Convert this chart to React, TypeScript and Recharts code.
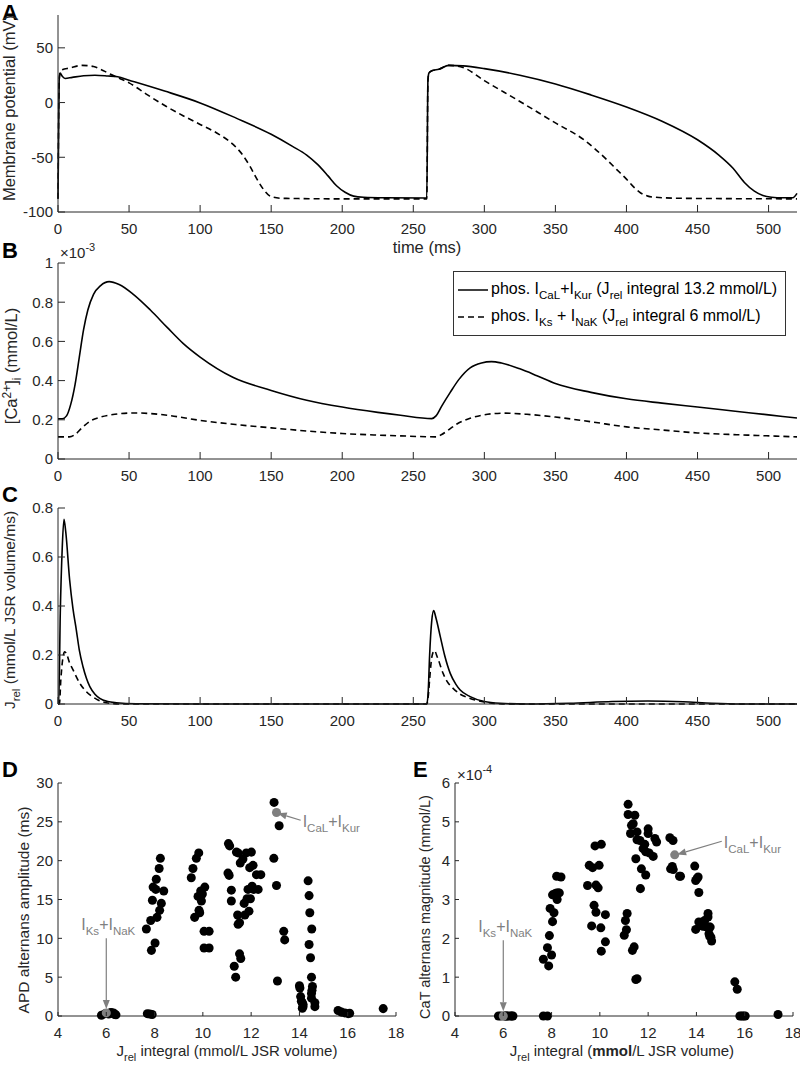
import React from 'react';
import {
  LineChart,
  Line,
  ScatterChart,
  Scatter,
  XAxis,
  YAxis,
  ZAxis,
  Legend,
  ReferenceLine,
} from 'recharts';

const FONT = '"Liberation Sans", Arial, Helvetica, sans-serif';
const INK = '#262626';
const GREY = '#7f7f7f';

// ---- A: membrane potential (mV) over time (ms)
const timeTicks = [0, 50, 100, 150, 200, 250, 300, 350, 400, 450, 500];
const vTicks = [-100, -50, 0, 50];

const apCaKurT = [0, 0.8, 1.5, 3, 5, 10, 18, 26, 35, 42, 50, 75, 100, 125, 150, 165, 175, 183, 190, 196, 202, 208, 215, 230, 259.5, 260.3, 261, 263, 268, 275, 285, 300, 325, 350, 375, 400, 425, 450, 465, 475, 483, 490, 496, 502, 510, 517, 520];
const apCaKurV = [-88, 20, 27, 24, 22, 23, 24.5, 25, 24.3, 23.5, 20.4, 10.5, -0.3, -14, -29, -40, -48, -57, -67, -76, -82, -85.5, -86.5, -87, -87.2, 20, 27, 29, 30.5, 34, 33.5, 31, 25, 17, 7, -4, -17, -34, -48, -60, -73, -81, -85, -86.5, -87, -87, -83];

const apKsNaKT = [0, 0.8, 1.5, 3, 8, 17, 25, 32, 40, 50, 63, 76, 88, 100, 112, 123, 130, 135, 140, 145, 150, 158, 200, 259.5, 260.3, 261, 263, 268, 275, 285, 300, 325, 350, 370, 386, 393, 400, 405, 410, 415, 420, 440, 520];
const apKsNaKV = [-88, 20, 28, 30, 31.5, 34, 33, 29, 24, 18, 7, -3.4, -12, -20, -28, -38, -48, -58, -70, -80, -86, -87.5, -88, -88, 20, 27, 29, 30.5, 34, 32, 20, 1, -18.6, -34, -52, -61, -70, -77, -82.6, -85.5, -86.5, -87.5, -88];

// ---- B: [Ca2+]i (x1e-3 mmol/L)
const caTicks = [0, 0.2, 0.4, 0.6, 0.8, 1];
const caCaKurT = [0, 3, 6, 9, 12, 15, 18, 21, 25, 30, 36, 43, 53, 65, 77, 88, 100, 123, 150, 175, 200, 225, 241, 263, 266, 270, 276, 282, 290, 298, 305, 312, 325, 337, 350, 375, 400, 425, 450, 475, 500, 520];
const caCaKurV = [0.205, 0.205, 0.22, 0.28, 0.38, 0.52, 0.66, 0.76, 0.84, 0.885, 0.905, 0.89, 0.84, 0.76, 0.67, 0.59, 0.52, 0.417, 0.35, 0.3, 0.265, 0.238, 0.223, 0.206, 0.22, 0.27, 0.34, 0.405, 0.465, 0.49, 0.497, 0.49, 0.46, 0.425, 0.385, 0.34, 0.307, 0.285, 0.265, 0.245, 0.225, 0.209];

const caKsNaKT = [0, 8, 12, 17, 23, 30, 40, 53, 65, 77, 100, 125, 150, 175, 200, 225, 241, 266, 270, 276, 281, 290, 298, 314, 330, 350, 375, 400, 425, 450, 485, 520];
const caKsNaKV = [0.113, 0.113, 0.125, 0.16, 0.195, 0.214, 0.228, 0.235, 0.232, 0.223, 0.197, 0.176, 0.159, 0.143, 0.13, 0.122, 0.118, 0.113, 0.125, 0.155, 0.18, 0.208, 0.223, 0.234, 0.228, 0.214, 0.19, 0.164, 0.148, 0.133, 0.122, 0.113];

// ---- C: Jrel (mmol/L JSR volume/ms)
const jTicks = [0, 0.2, 0.4, 0.6, 0.8];
const jCaKurT = [0, 0.5, 1.6, 3, 4.2, 5.5, 8.2, 10.5, 12.9, 15, 17.6, 20, 22.4, 26, 29.4, 35, 41, 55, 100, 259.5, 260.5, 261.5, 263, 264.3, 266, 269, 272, 276, 280, 283, 290, 300, 311, 330, 360, 390, 415, 440, 460, 480, 520];
const jCaKurV = [0, 0, 0.37, 0.64, 0.754, 0.7, 0.506, 0.39, 0.302, 0.22, 0.152, 0.105, 0.071, 0.04, 0.023, 0.01, 0.005, 0.001, 0, 0, 0.05, 0.2, 0.34, 0.381, 0.35, 0.275, 0.2, 0.125, 0.08, 0.057, 0.03, 0.01, 0.003, 0, 0.003, 0.01, 0.012, 0.009, 0.003, 0, 0];

const jKsNaKT = [0, 1, 2, 3.5, 4.7, 6, 8, 10.6, 13, 15.3, 20, 27, 34, 45, 259.5, 260.5, 261.5, 263, 264.8, 267, 271, 274, 278, 283, 288, 300, 315, 520];
const jKsNaKV = [0, 0, 0.1, 0.19, 0.213, 0.205, 0.17, 0.139, 0.11, 0.085, 0.05, 0.02, 0.005, 0, 0, 0.03, 0.1, 0.19, 0.218, 0.19, 0.125, 0.09, 0.064, 0.04, 0.027, 0.008, 0, 0];

// ---- D: APD alternans amplitude (ms) vs Jrel integral
const jrelTicks = [4, 6, 8, 10, 12, 14, 16, 18];
const apdTicks = [0, 5, 10, 15, 20, 25, 30];
const apdJrel = [
  5.8, 5.95, 6.1, 6.15, 6.2, 6.25, 6.3, 6.35, 6.4,
  7.7, 7.8, 7.9, 7.66, 7.84, 7.87, 7.91, 7.94, 8.02, 8.05, 8.07, 8.1, 8.19, 8.21, 8.24, 8.28, 8.38,
  9.52, 9.59, 9.66, 9.73, 9.8, 9.83, 9.84, 9.87, 9.91, 9.94, 9.98, 10.05, 10.26, 10.05, 10.26, 10.08,
  11.06, 11.11, 11.04, 11.09, 11.18, 11.18, 11.3, 11.36, 11.39, 11.44, 11.46, 11.46, 11.52, 11.52, 11.57, 11.55,
  11.66, 11.71, 11.74, 11.8, 11.83, 11.87, 11.91, 11.94, 11.97, 12.01, 12.04, 12.08, 12.1, 12.29, 12.22, 12.4,
  12.95, 13.16, 12.94, 13.05, 13.09, 13.35, 13.39,
  14.0, 14.02, 14.05, 14.08, 14.12, 14.15, 14.15, 14.12, 14.36, 14.4, 14.43, 14.4, 14.51, 14.46, 14.5, 14.54, 14.52, 14.5, 14.5, 14.64, 14.64,
  15.6, 15.74, 15.88, 16.02, 16.08, 17.47,
];
const apdAmp = [
  0.1, 0.3, 0.25, 0.4, 0.45, 0.35, 0.4, 0.2, 0.15,
  0.3, 0.25, 0.2, 11.2, 12.3, 8.45, 14.9, 16.6, 9.4, 16.3, 17.6, 12.7, 19.0, 13.6, 20.3, 14.5, 16.1,
  17.8, 19.0, 12.7, 20.3, 15.4, 21.0, 13.6, 13.3, 16.1, 14.8, 15.7, 10.9, 10.9, 8.75, 8.75, 16.6,
  22.2, 21.9, 18.4, 18.1, 16.2, 14.8, 6.4, 5.0, 21.1, 13.0, 21.0, 11.8, 12.0, 8.0, 7.4, 19.7,
  20.2, 14.5, 13.0, 21.0, 15.1, 16.3, 13.5, 19.1, 15.1, 21.1, 16.7, 19.4, 16.3, 16.3, 18.2, 18.2,
  27.5, 24.5, 20.3, 16.8, 4.5, 10.9, 9.8,
  3.9, 3.6, 2.5, 1.9, 1.7, 1.5, 1.2, 1.0, 17.4, 15.5, 13.3, 9.2, 11.2, 7.5, 5.0, 3.8, 3.3, 2.9, 2.3, 1.7, 1.2,
  0.7, 0.5, 0.4, 0.3, 0.35, 0.95,
];
const apdMarkJrel = [13.05, 6.0];
const apdMarkAmp = [26.2, 0.4];

// ---- E: CaT alternans magnitude (x1e-4 mmol/L) vs Jrel integral
const catTicks = [0, 1, 2, 3, 4, 5, 6];
const catJrel = [
  5.8, 5.9, 6.05, 6.1, 6.15, 6.2, 6.3, 6.35, 6.4,
  7.66, 7.83, 7.66, 7.83, 7.88, 7.91, 7.94, 8.0, 8.04, 8.04, 8.1, 8.14, 8.21, 8.23, 8.28, 8.21, 8.32, 8.39,
  9.49, 9.56, 9.66, 9.7, 9.76, 9.8, 9.84, 9.84, 9.93, 9.97, 10.04, 10.06, 10.06, 10.23, 10.23,
  11.01, 11.06, 11.1, 11.13, 11.17, 11.17, 11.27, 11.31, 11.38, 11.35, 11.42, 11.45, 11.49, 11.49, 11.54,
  11.54, 11.54, 11.66, 11.72, 11.68, 11.79, 11.86, 11.9, 11.9, 12.0, 12.0, 12.04, 12.21, 12.28, 12.35,
  12.9, 13.03, 12.93, 13.0, 13.04, 13.3, 13.34,
  13.93, 13.97, 14.03, 14.07, 14.1, 13.97, 14.1, 14.27, 14.34, 14.38, 14.43, 14.48, 14.48, 14.52, 14.52, 14.57, 14.55, 14.6, 14.63,
  15.59, 15.69, 15.8, 15.88, 15.95, 16.02, 17.38,
];
const catMag = [
  0, 0, 0, 0, 0, 0, 0, 0, 0,
  0, 0, 1.46, 1.76, 1.29, 2.07, 2.77, 1.57, 2.43, 3.12, 2.66, 3.15, 3.17, 3.0, 3.17, 3.6, 3.17, 3.58,
  3.36, 3.88, 2.32, 3.82, 2.85, 4.38, 3.37, 2.67, 3.3, 3.88, 2.27, 4.42, 1.67, 2.61, 1.91,
  2.08, 2.46, 2.22, 2.64, 5.45, 5.19, 4.7, 4.91, 4.95, 1.69, 1.78, 5.17, 4.05, 0.94, 0.96,
  4.74, 4.54, 4.52, 3.79, 3.28, 4.31, 4.42, 3.63, 4.23, 4.82, 4.7, 4.2, 4.11, 4.57, 4.48,
  4.59, 4.52, 3.79, 3.85, 3.77, 3.6, 3.6,
  3.86, 3.49, 3.54, 3.58, 3.18, 2.23, 2.42, 2.31, 2.46, 2.31, 2.29, 2.64, 2.55, 2.29, 2.12, 2.29, 2.05, 2.03, 1.93,
  0.88, 0.69, 0, 0, 0, 0, 0.04,
];
const catMarkJrel = [13.1, 6.0];
const catMarkMag = [4.15, 0.0];

const series = (t: number[], v: number[]) => t.map((x, i) => ({ t: x, v: v[i] }));
const points = (x: number[], y: number[]) => x.map((a, i) => ({ x: a, y: y[i] }));

const apCaKur = series(apCaKurT, apCaKurV);
const apKsNaK = series(apKsNaKT, apKsNaKV);
const caCaKur = series(caCaKurT, caCaKurV);
const caKsNaK = series(caKsNaKT, caKsNaKV);
const jCaKur = series(jCaKurT, jCaKurV);
const jKsNaK = series(jKsNaKT, jKsNaKV);

const XTick = ({ x, y, payload, len }: any) => (
  <g>
    <line x1={x} y1={y} x2={x} y2={y - len} stroke={INK} />
    <text x={x} y={y + 22} textAnchor="middle" fontSize={15} fill={INK} fontFamily={FONT}>
      {payload.value}
    </text>
  </g>
);

const YTick = ({ x, y, payload, len }: any) => (
  <g>
    <line x1={x} y1={y} x2={x + len} y2={y} stroke={INK} />
    <text x={x - 5} y={y} dy="0.36em" textAnchor="end" fontSize={15} fill={INK} fontFamily={FONT}>
      {payload.value}
    </text>
  </g>
);

const Letter = ({ x, y, children }: any) => (
  <text x={x} y={y} fontSize={22} fontWeight="bold" fill="#000" fontFamily={FONT}>{children}</text>
);

const VTitle = ({ x, y, size = 16, children }: any) => (
  <text transform={`translate(${x},${y}) rotate(-90)`} textAnchor="middle" fontSize={size} fill={INK} fontFamily={FONT}>
    {children}
  </text>
);

const Exp = ({ x, y, p }: any) => (
  <text x={x} y={y} fontSize={15} fill={INK} fontFamily={FONT}>
    ×10<tspan dy={-7} fontSize={11}>{p}</tspan>
  </text>
);

const JrelTitle = ({ x, y, boldUnit }: any) => (
  <text x={x} y={y} textAnchor="middle" fontSize={15} fill={INK} fontFamily={FONT}>
    J<tspan dy={5} fontSize={11}>rel</tspan>
    <tspan dy={-5}> integral (</tspan>
    <tspan fontWeight={boldUnit ? 'bold' : 'normal'}>mmol</tspan>
    <tspan>/L JSR volume)</tspan>
  </text>
);

const Sub = ({ children }: any) => (
  <span style={{ fontSize: 11.5, position: 'relative', top: 5 }}>{children}</span>
);

const LegendBox = () => (
  <div
    style={{
      border: '1px solid #333',
      background: '#fff',
      padding: '4px 8px 5px 4px',
      fontFamily: FONT,
      fontSize: 16,
      color: '#000',
      lineHeight: '25px',
      width: 'max-content',
      boxSizing: 'border-box',
    }}
  >
    <div style={{ display: 'flex', alignItems: 'center', whiteSpace: 'nowrap' }}>
      <svg width={31} height={10}><line x1={0} x2={30} y1={5} y2={5} stroke="#000" strokeWidth={1.5} /></svg>
      <span style={{ marginLeft: 2 }}>
        phos. I<Sub>CaL</Sub>+I<Sub>Kur</Sub> (J<Sub>rel</Sub> integral 13.2 mmol/L)
      </span>
    </div>
    <div style={{ display: 'flex', alignItems: 'center', whiteSpace: 'nowrap' }}>
      <svg width={31} height={10}><line x1={0} x2={30} y1={5} y2={5} stroke="#000" strokeWidth={1.5} strokeDasharray="6 4" /></svg>
      <span style={{ marginLeft: 2 }}>
        phos. I<Sub>Ks</Sub> + I<Sub>NaK</Sub> (J<Sub>rel</Sub> integral 6 mmol/L)
      </span>
    </div>
  </div>
);

const Note = ({ x, y, anchor, a, b }: any) => (
  <text x={x} y={y} textAnchor={anchor} fontSize={16} fill={GREY} fontFamily={FONT}>
    I<tspan dy={5} fontSize={11.5}>{a}</tspan>
    <tspan dy={-5}>+I</tspan>
    <tspan dy={5} fontSize={11.5}>{b}</tspan>
  </text>
);

const Arrow = ({ x1, y1, x2, y2, note }: any) => {
  const ang = Math.atan2(y2 - y1, x2 - x1);
  const L = 9;
  const W = 3.5;
  const bx = x2 - L * Math.cos(ang);
  const by = y2 - L * Math.sin(ang);
  const pts = `${x2},${y2} ${bx - W * Math.sin(ang)},${by + W * Math.cos(ang)} ${bx + W * Math.sin(ang)},${by - W * Math.cos(ang)}`;
  return (
    <g>
      <line x1={x1} y1={y1} x2={bx} y2={by} stroke={GREY} strokeWidth={1.2} />
      <polygon points={pts} fill={GREY} />
      {note.side === 'right' ? (
        <Note x={x1 + 2} y={y1 + 7} anchor="start" a={note.a} b={note.b} />
      ) : (
        <Note x={x1 + 2} y={y1 - 8} anchor="middle" a={note.a} b={note.b} />
      )}
    </g>
  );
};

const lineProps = { type: 'monotone' as const, dataKey: 'v', stroke: '#000', strokeWidth: 1.6, dot: false, isAnimationActive: false };

export default function App() {
  return (
    <div style={{ position: 'absolute', left: 0, top: 0, width: 800, height: 1067, background: '#fff', fontFamily: FONT }}>
      {/* A */}
      <div style={{ position: 'absolute', left: 0, top: 0 }}>
        <LineChart width={800} height={264} margin={{ top: 15, right: 3, bottom: 0, left: 0 }}>
          <XAxis
            type="number"
            dataKey="t"
            domain={[0, 520]}
            ticks={timeTicks}
            interval={0}
            height={52}
            tickSize={0}
            tickMargin={0}
            stroke={INK}
            tick={(p: any) => <XTick {...p} len={7} />}
            label={{ content: () => <text x={427} y={253} textAnchor="middle" fontSize={16.5} fill={INK} fontFamily={FONT}>time (ms)</text> }}
          />
          <YAxis
            type="number"
            domain={[-100, 80]}
            ticks={vTicks}
            interval={0}
            width={58}
            tickSize={0}
            tickMargin={0}
            stroke={INK}
            tick={(p: any) => <YTick {...p} len={7} />}
            label={{
              content: () => (
                <g>
                  <Letter x={2} y={20}>A</Letter>
                  <VTitle x={15} y={108} size={16.5}>Membrane potential (mV)</VTitle>
                </g>
              ),
            }}
          />
          <Line {...lineProps} data={apCaKur} />
          <Line {...lineProps} data={apKsNaK} strokeDasharray="6 4" />
        </LineChart>
      </div>

      {/* B */}
      <div style={{ position: 'absolute', left: 0, top: 230 }}>
        <LineChart width={800} height={255} margin={{ top: 33, right: 3, bottom: 0, left: 0 }}>
          <XAxis
            type="number"
            dataKey="t"
            domain={[0, 520]}
            ticks={timeTicks}
            interval={0}
            height={26}
            tickSize={0}
            tickMargin={0}
            stroke={INK}
            tick={(p: any) => <XTick {...p} len={7} />}
          />
          <YAxis
            type="number"
            domain={[0, 1]}
            ticks={caTicks}
            interval={0}
            width={58}
            tickSize={0}
            tickMargin={0}
            stroke={INK}
            tick={(p: any) => <YTick {...p} len={7} />}
            label={{
              content: () => (
                <g>
                  <Letter x={2} y={28}>B</Letter>
                  <Exp x={60} y={28} p="-3" />
                  <VTitle x={17} y={136} size={16.5}>
                    [Ca<tspan dy={-6} fontSize={12}>2+</tspan>
                    <tspan dy={6}>]</tspan>
                    <tspan dy={4} fontSize={12}>i</tspan>
                    <tspan dy={-4}> (mmol/L)</tspan>
                  </VTitle>
                </g>
              ),
            }}
          />
          <Legend
            layout="vertical"
            align="center"
            verticalAlign="middle"
            content={() => <LegendBox />}
            wrapperStyle={{ position: 'absolute', left: 453, top: 41, width: 'auto' }}
          />
          <Line {...lineProps} data={caCaKur} />
          <Line {...lineProps} data={caKsNaK} strokeDasharray="6 4" />
        </LineChart>
      </div>

      {/* C */}
      <div style={{ position: 'absolute', left: 0, top: 472 }}>
        <LineChart width={800} height={258} margin={{ top: 36, right: 3, bottom: 0, left: 0 }}>
          <XAxis
            type="number"
            dataKey="t"
            domain={[0, 520]}
            ticks={timeTicks}
            interval={0}
            height={26}
            tickSize={0}
            tickMargin={0}
            stroke={INK}
            tick={(p: any) => <XTick {...p} len={7} />}
          />
          <YAxis
            type="number"
            domain={[0, 0.8]}
            ticks={jTicks}
            interval={0}
            width={58}
            tickSize={0}
            tickMargin={0}
            stroke={INK}
            tick={(p: any) => <YTick {...p} len={7} />}
            label={{
              content: () => (
                <g>
                  <Letter x={2} y={30}>C</Letter>
                  <VTitle x={15} y={138} size={15.5}>
                    J<tspan dy={5} fontSize={11.5}>rel</tspan>
                    <tspan dy={-5}> (mmol/L JSR volume/ms)</tspan>
                  </VTitle>
                </g>
              ),
            }}
          />
          <Line {...lineProps} data={jCaKur} />
          <Line {...lineProps} data={jKsNaK} strokeDasharray="6 4" />
        </LineChart>
      </div>

      {/* D */}
      <div style={{ position: 'absolute', left: 0, top: 745 }}>
        <ScatterChart width={412} height={322} margin={{ top: 38, right: 16, bottom: 0, left: 0 }}>
          <XAxis
            type="number"
            dataKey="x"
            domain={[4, 18]}
            ticks={jrelTicks}
            interval={0}
            height={51}
            tickSize={0}
            tickMargin={0}
            stroke={INK}
            tick={(p: any) => <XTick {...p} len={4} />}
            label={{ content: () => <JrelTitle x={227} y={311} /> }}
          />
          <YAxis
            type="number"
            dataKey="y"
            domain={[0, 30]}
            ticks={apdTicks}
            interval={0}
            width={58}
            tickSize={0}
            tickMargin={0}
            stroke={INK}
            tick={(p: any) => <YTick {...p} len={4} />}
            label={{
              content: () => (
                <g>
                  <Letter x={2} y={32}>D</Letter>
                  <VTitle x={29} y={165} size={15.5}>APD alternans amplitude (ms)</VTitle>
                </g>
              ),
            }}
          />
          <ZAxis range={[36, 36]} />
          <Scatter data={points(apdJrel, apdAmp)} fill="#000" isAnimationActive={false} />
          <Scatter data={points(apdMarkJrel, apdMarkAmp)} fill={GREY} isAnimationActive={false} />
          <ReferenceLine
            segment={[{ x: 14.05, y: 25.2 }, { x: 13.1, y: 26.1 }]}
            shape={(p: any) => <Arrow {...p} note={{ side: 'right', a: 'CaL', b: 'Kur' }} />}
          />
          <ReferenceLine
            segment={[{ x: 6.0, y: 10.0 }, { x: 6.0, y: 0.9 }]}
            shape={(p: any) => <Arrow {...p} note={{ side: 'top', a: 'Ks', b: 'NaK' }} />}
          />
        </ScatterChart>
      </div>

      {/* E */}
      <div style={{ position: 'absolute', left: 400, top: 745 }}>
        <ScatterChart width={400} height={322} margin={{ top: 38, right: 7, bottom: 0, left: 0 }}>
          <XAxis
            type="number"
            dataKey="x"
            domain={[4, 18]}
            ticks={jrelTicks}
            interval={0}
            height={51}
            tickSize={0}
            tickMargin={0}
            stroke={INK}
            tick={(p: any) => <XTick {...p} len={4} />}
            label={{ content: () => <JrelTitle x={222} y={311} boldUnit /> }}
          />
          <YAxis
            type="number"
            dataKey="y"
            domain={[0, 6]}
            ticks={catTicks}
            interval={0}
            width={55}
            tickSize={0}
            tickMargin={0}
            stroke={INK}
            tick={(p: any) => <YTick {...p} len={4} />}
            label={{
              content: () => (
                <g>
                  <Letter x={13} y={32}>E</Letter>
                  <Exp x={57} y={35} p="-4" />
                  <VTitle x={30} y={162} size={14.5}>CaT alternans magnitude (mmol/L)</VTitle>
                </g>
              ),
            }}
          />
          <ZAxis range={[36, 36]} />
          <Scatter data={points(catJrel, catMag)} fill="#000" isAnimationActive={false} />
          <Scatter data={points(catMarkJrel, catMarkMag)} fill={GREY} isAnimationActive={false} />
          <ReferenceLine
            segment={[{ x: 15.05, y: 4.5 }, { x: 13.2, y: 4.16 }]}
            shape={(p: any) => <Arrow {...p} note={{ side: 'right', a: 'CaL', b: 'Kur' }} />}
          />
          <ReferenceLine
            segment={[{ x: 6.0, y: 1.95 }, { x: 6.0, y: 0.12 }]}
            shape={(p: any) => <Arrow {...p} note={{ side: 'top', a: 'Ks', b: 'NaK' }} />}
          />
        </ScatterChart>
      </div>
    </div>
  );
}
